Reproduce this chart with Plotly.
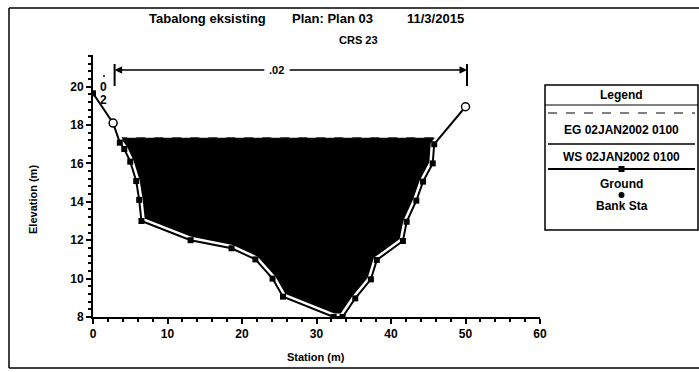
import numpy as np
import plotly.graph_objects as go

# ---- data ----
ground_x = [0.0, 2.7, 3.6, 4.2, 5.0, 5.8, 6.2, 6.5, 13.1, 18.6, 21.8, 24.1, 25.5,
            32.3, 33.5, 35.2, 37.3, 38.1, 41.6, 42.1, 43.4, 44.3, 45.6, 45.8, 50.0]
ground_y = [19.65, 18.1, 17.08, 16.75, 16.09, 15.08, 14.1, 13.0, 12.0, 11.58, 11.0, 10.0, 9.06,
            8.0, 8.0, 8.97, 9.96, 10.97, 11.96, 12.96, 14.06, 15.05, 16.0, 17.0, 18.95]
bank_x = [2.7, 50.0]
bank_y = [18.1, 18.95]
ws_elev = 17.31
eg_elev = 17.33
n_values = [".02"]
n_bounds = [2.9, 50.2]
legend_items = ["EG 02JAN2002 0100", "WS 02JAN2002 0100", "Ground", "Bank Sta"]
x_ticks = [0, 10, 20, 30, 40, 50, 60]
y_ticks = [8, 10, 12, 14, 16, 18, 20]

W, H = 699, 372
L, R, T, B = 93, 540, 55, 317
x_rng = [0, 60]
y_rng = [8, 8 + (B - T) / 19.2]

def px(x):
    return (x - L) / (R - L)

def py(y):
    return (B - y) / (B - T)

FONT = "Liberation Sans, Arial"

# water polygon: ground below WS, plus intersections
gx = np.array(ground_x); gy = np.array(ground_y)
poly_x, poly_y = [], []
for i in range(len(gx) - 1):
    x0, y0, x1, y1 = gx[i], gy[i], gx[i + 1], gy[i + 1]
    if y0 <= ws_elev:
        poly_x.append(x0); poly_y.append(y0)
    if (y0 - ws_elev) * (y1 - ws_elev) < 0:
        xi = x0 + (ws_elev - y0) / (y1 - y0) * (x1 - x0)
        poly_x.append(xi); poly_y.append(ws_elev)
if gy[-1] <= ws_elev:
    poly_x.append(gx[-1]); poly_y.append(gy[-1])
ws_left, ws_right = poly_x[0], poly_x[-1]

fig = go.Figure()
fig.add_trace(go.Scatter(x=poly_x + [poly_x[0]], y=poly_y + [poly_y[0]], fill="toself",
                         fillcolor="black", mode="lines", line=dict(color="black", width=1),
                         hoverinfo="skip", showlegend=False))
fig.add_trace(go.Scatter(x=[ws_left, ws_right], y=[eg_elev, eg_elev], mode="lines",
                         line=dict(color="black", width=1, dash="dash"), showlegend=False))
fig.add_trace(go.Scatter(x=ground_x, y=ground_y, mode="lines",
                         line=dict(color="white", width=7), showlegend=False, hoverinfo="skip"))
fig.add_trace(go.Scatter(x=ground_x, y=ground_y, mode="lines+markers",
                         line=dict(color="black", width=2),
                         marker=dict(symbol="square", size=6, color="black"), showlegend=False))
fig.add_trace(go.Scatter(x=bank_x, y=bank_y, mode="markers",
                         marker=dict(symbol="circle", size=8, color="white",
                                     line=dict(color="black", width=1.5)), showlegend=False))

shapes = []
annotations = []

def text(xp, yp, t, size=11, bold=True, angle=0, xanchor="center"):
    annotations.append(dict(x=px(xp), y=py(yp), xref="paper", yref="paper",
                            text=("<b>%s</b>" % t) if bold else t, showarrow=False,
                            xanchor=xanchor, yanchor="middle", textangle=angle,
                            font=dict(family=FONT, size=size, color="black")))

def pline(x0, y0, x1, y1, width=1.5, dash="solid"):
    shapes.append(dict(type="line", xref="paper", yref="paper", x0=px(x0), x1=px(x1),
                       y0=py(y0), y1=py(y1), line=dict(color="black", width=width, dash=dash)))

# Manning's n bar
ny = 8 + (B - 70) / 19.2
for bx in n_bounds:
    shapes.append(dict(type="line", xref="x", yref="paper", x0=bx, x1=bx,
                       y0=py(64), y1=py(86), line=dict(color="black", width=2)))
mid = 24.6
annotations.append(dict(x=n_bounds[0], y=ny, ax=mid - 1.4, ay=ny, xref="x", yref="y",
                        axref="x", ayref="y", text="", showarrow=True, arrowhead=2,
                        arrowsize=1, arrowwidth=1.5, arrowcolor="black"))
annotations.append(dict(x=n_bounds[1], y=ny, ax=mid + 1.6, ay=ny, xref="x", yref="y",
                        axref="x", ayref="y", text="", showarrow=True, arrowhead=2,
                        arrowsize=1, arrowwidth=1.5, arrowcolor="black"))
annotations.append(dict(x=mid, y=ny, xref="x", yref="y", text="<b>%s</b>" % n_values[0],
                        showarrow=False, xanchor="center", yanchor="middle",
                        font=dict(family=FONT, size=11, color="black")))

# small labels near left
text(103, 87, "0", size=12)
text(103, 100, "2", size=12)
shapes.append(dict(type="circle", xref="paper", yref="paper", x0=px(103), x1=px(105),
                   y0=py(75), y1=py(77), fillcolor="black", line=dict(color="black", width=0)))

# Titles
for txt, x0 in [("Tabalong eksisting", 147), ("Plan: Plan 03", 290), ("11/3/2015", 405)]:
    text(x0, 18, txt, size=13, xanchor="left")
text(358, 40, "CRS 23", size=11)

# axis titles
text(316, 357, "Station (m)", size=11)
text(33, 200, "Elevation (m)", size=11, angle=-90)

# outer frame
pline(9, 8, 9, 368)
pline(9, 8, 699, 8)
pline(9, 368, 699, 368)

# Legend box
lx0, lx1, ly0, ly1 = 545, 698, 85, 230
lcx = (lx0 + lx1) / 2
shapes.append(dict(type="rect", xref="paper", yref="paper", x0=px(lx0), x1=px(lx1), y0=py(ly0), y1=py(ly1),
                   line=dict(color="black", width=1.5)))
pline(lx0, 105, lx1, 105, width=1)
text(lcx, 95, "Legend", size=12)
pline(lx0 + 3, 113, lx1 - 3, 113, width=1, dash="dash")
text(lcx, 130, legend_items[0], size=12)
pline(lx0 + 3, 144, lx1 - 3, 144, width=1.5)
text(lcx, 157, legend_items[1], size=12)
pline(lx0 + 3, 169, lx1 - 3, 169, width=2)
shapes.append(dict(type="rect", xref="paper", yref="paper", x0=px(lcx - 3), x1=px(lcx + 3), y0=py(166), y1=py(172),
                   fillcolor="black", line=dict(color="black", width=0)))
text(lcx, 184, legend_items[2], size=12)
shapes.append(dict(type="circle", xref="paper", yref="paper", x0=px(lcx - 3), x1=px(lcx + 3), y0=py(192), y1=py(198),
                   fillcolor="black", line=dict(color="black", width=0)))
text(lcx, 206, legend_items[3], size=12)

fig.update_layout(
    width=W, height=H,
    margin=dict(l=L, r=W - R, t=T, b=H - B, pad=0),
    paper_bgcolor="white", plot_bgcolor="white",
    showlegend=False,
    shapes=shapes, annotations=annotations,
    xaxis=dict(range=x_rng, tickvals=x_ticks,
               ticktext=["<b>%d</b>" % v for v in x_ticks],
               showgrid=False, zeroline=False, showline=True, linecolor="black", linewidth=2,
               ticks="outside", ticklen=5, tickwidth=2, tickcolor="black",
               minor=dict(dtick=2, ticks="outside", ticklen=3, tickwidth=1.5, tickcolor="black"),
               tickfont=dict(family=FONT, size=12, color="black")),
    yaxis=dict(range=y_rng, tickvals=y_ticks,
               ticktext=["<b>%d</b>" % v for v in y_ticks],
               showgrid=False, zeroline=False, showline=True, linecolor="black", linewidth=2,
               ticks="outside", ticklen=5, tickwidth=2, tickcolor="black",
               minor=dict(dtick=0.4, ticks="outside", ticklen=3, tickwidth=1.5, tickcolor="black"),
               tickfont=dict(family=FONT, size=12, color="black")),
)

fig.write_html("out.html")
